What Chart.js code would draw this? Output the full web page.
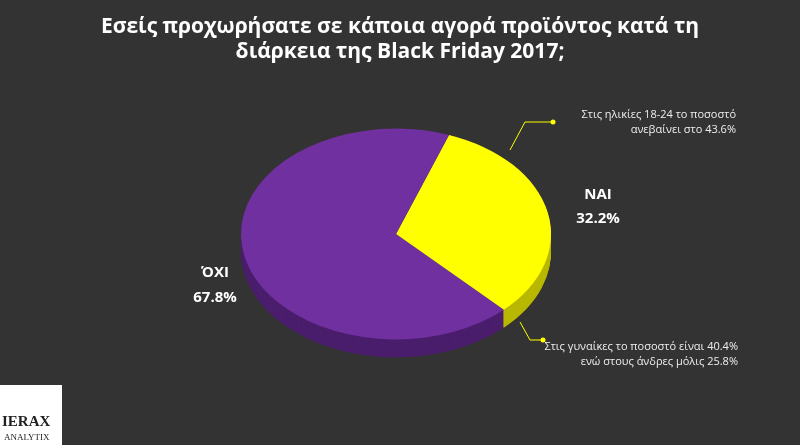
<!DOCTYPE html>
<html><head><meta charset="utf-8">
<script src="https://cdn.jsdelivr.net/npm/chart.js@4"></script>
<style>html,body{margin:0;padding:0;background:#333333;}#w{width:800px;height:445px;}</style>
</head><body><div id="w"><canvas id="c"></canvas></div>
<script>
const categories = ['ΝΑΙ', 'ΌΧΙ'];
const values = [32.2, 67.8];
const colors = ['#FFFF00', '#7030A0'];
const sideColors = ['#B8B800', '#4A1E6C'];
const titleLines = ['Εσείς προχωρήσατε σε κάποια αγορά προϊόντος κατά τη', 'διάρκεια της Black Friday 2017;'];
const note1 = ['Στις ηλικίες 18-24 το ποσοστό', 'ανεβαίνει στο 43.6%'];
const note2 = ['Στις γυναίκες το ποσοστό είναι 40.4%', 'ενώ στους άνδρες μόλις 25.8%'];
const SY = 0.68, DEPTH = 18;

const tilt = {
  id: 'tilt',
  beforeDatasetsDraw(chart) {
    const ctx = chart.ctx, a = chart.getDatasetMeta(0).data;
    const cx = a[0].x, cy = a[0].y, r = a[0].outerRadius;
    ctx.save();
    for (let d = DEPTH; d > 0; d--) {
      a.forEach((arc, i) => {
        ctx.save();
        ctx.translate(cx, cy + d); ctx.scale(1, SY);
        ctx.beginPath(); ctx.moveTo(0, 0);
        ctx.arc(0, 0, r, arc.startAngle, arc.endAngle); ctx.closePath();
        ctx.fillStyle = sideColors[i]; ctx.fill();
        ctx.restore();
      });
    }
    ctx.translate(cx, cy); ctx.scale(1, SY); ctx.translate(-cx, -cy);
  },
  afterDatasetsDraw(chart) { chart.ctx.restore(); },
  afterDraw(chart) {
    const ctx = chart.ctx;
    ctx.save();
    ctx.fillStyle = '#fff'; ctx.textAlign = 'center'; ctx.textBaseline = 'middle';
    ctx.font = 'bold 21px "Open Sans", sans-serif';
    ctx.fillText(titleLines[0], 400, 27); ctx.fillText(titleLines[1], 400, 52);
    ctx.font = 'bold 15px "Open Sans", sans-serif';
    ctx.fillText(categories[0], 598, 195); ctx.fillText(values[0].toFixed(1) + '%', 598, 219);
    ctx.fillText(categories[1], 215, 273); ctx.fillText(values[1].toFixed(1) + '%', 215, 298);
    ctx.font = '11px "Open Sans", sans-serif'; ctx.textAlign = 'right'; ctx.fillStyle = '#eee';
    ctx.fillText(note1[0], 736, 115); ctx.fillText(note1[1], 736, 130);
    ctx.fillText(note2[0], 738, 347); ctx.fillText(note2[1], 738, 362);
    ctx.strokeStyle = '#FFFF00'; ctx.fillStyle = '#FFFF00'; ctx.lineWidth = 1;
    ctx.beginPath(); ctx.moveTo(510, 150); ctx.lineTo(525, 122); ctx.lineTo(552, 122); ctx.stroke();
    ctx.beginPath(); ctx.arc(553, 122, 2.5, 0, 7); ctx.fill();
    ctx.beginPath(); ctx.moveTo(520, 322); ctx.lineTo(530, 340); ctx.lineTo(542, 340); ctx.stroke();
    ctx.beginPath(); ctx.arc(543, 340, 2.5, 0, 7); ctx.fill();
    ctx.fillStyle = '#fff'; ctx.fillRect(0, 385, 62, 60);
    ctx.fillStyle = '#222'; ctx.textAlign = 'left';
    ctx.font = 'bold 15px "Liberation Serif", serif'; ctx.fillText('IERAX', 2, 422);
    ctx.font = '9px "Liberation Serif", serif'; ctx.fillText('ANALYTIX', 4, 438);
    ctx.restore();
  }
};

new Chart(document.getElementById('c'), {
  type: 'pie',
  data: { labels: categories, datasets: [{ data: values, backgroundColor: colors, borderWidth: 0 }] },
  options: {
    responsive: true, maintainAspectRatio: false, animation: false,
    rotation: 20,
    layout: { padding: { left: 241, right: 249, top: 79, bottom: 56 } },
    plugins: { legend: { display: false }, tooltip: { enabled: false } }
  },
  plugins: [tilt]
});
</script></body></html>
